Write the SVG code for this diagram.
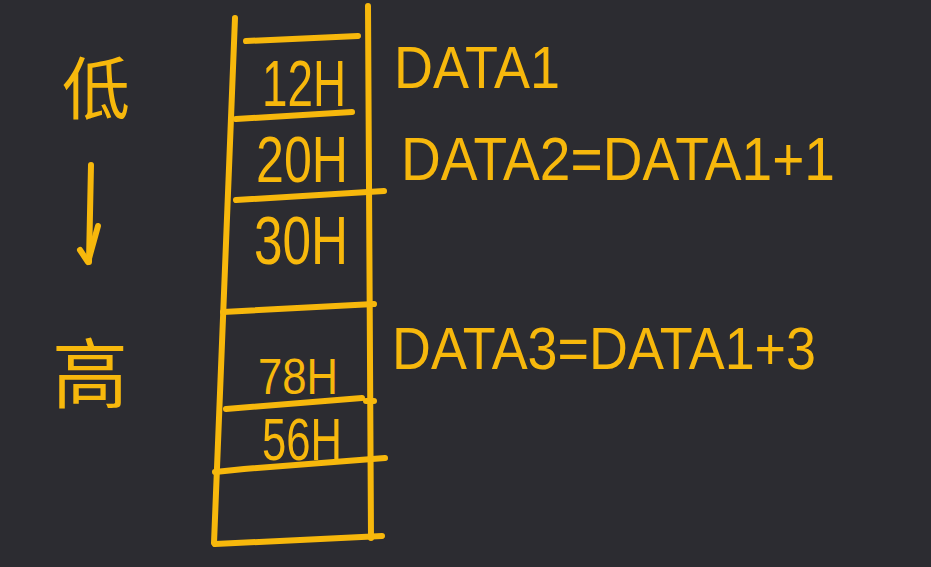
<svg xmlns="http://www.w3.org/2000/svg" width="931" height="567" viewBox="0 0 931 567">
<style>
.ln{stroke:#f7b80c;stroke-width:6;stroke-linecap:round;stroke-linejoin:round;fill:none}
.t{fill:#f7b80c;font-family:"Liberation Sans","Noto Sans CJK SC",sans-serif}
.cjk{fill:#f7b80c;font-family:"Noto Sans CJK SC",sans-serif;font-weight:400}
</style>
<rect width="931" height="567" fill="#2c2c31"/>
<g id="memory-frame">
<path class="ln" d="M235 18 L214 543"/>
<path class="ln" d="M368 6 L371 538"/>
<path class="ln" d="M215 544 L382 536"/>
</g>
<g id="cell-12H">
<path class="ln" d="M246 41 L358 36"/>
<path class="ln" d="M236 119 L352 112"/>
<text class="t" x="262" y="106" font-size="64" textLength="84" lengthAdjust="spacingAndGlyphs">12H</text>
</g>
<g id="cell-20H">
<path class="ln" d="M236 200 L384 191"/>
<text class="t" x="256" y="182" font-size="64" textLength="92" lengthAdjust="spacingAndGlyphs">20H</text>
</g>
<g id="cell-30H">
<path class="ln" d="M223 312 L374 304"/>
<text class="t" x="254" y="264" font-size="68" textLength="94" lengthAdjust="spacingAndGlyphs">30H</text>
</g>
<g id="cell-78H">
<path class="ln" d="M226 409 L362 398"/>
<path class="ln" d="M366 401 L374 401"/>
<text class="t" x="258" y="394" font-size="50" textLength="80" lengthAdjust="spacingAndGlyphs">78H</text>
</g>
<g id="cell-56H">
<path class="ln" d="M215 472 L244 469 L385 458"/>
<text class="t" x="262" y="460" font-size="60" textLength="80" lengthAdjust="spacingAndGlyphs">56H</text>
</g>
<g id="cell-empty"></g>
<g id="label-data1">
<text class="t" x="394" y="88" font-size="60" textLength="166" lengthAdjust="spacingAndGlyphs">DATA1</text>
</g>
<g id="label-data2">
<text class="t" x="401" y="180" font-size="62" textLength="434" lengthAdjust="spacingAndGlyphs">DATA2=DATA1+1</text>
</g>
<g id="label-data3">
<text class="t" x="392" y="369" font-size="60" textLength="424" lengthAdjust="spacingAndGlyphs">DATA3=DATA1+3</text>
</g>
<g id="label-low">
<text class="cjk" x="62" y="114" font-size="68">低</text>
</g>
<g id="label-high">
<text class="cjk" x="52" y="402" font-size="76">高</text>
</g>
<g id="connectors">
<path class="ln" d="M91 165 L89 262"/>
<path class="ln" d="M80 250 L88 262 L98 226"/>
</g>
</svg>
